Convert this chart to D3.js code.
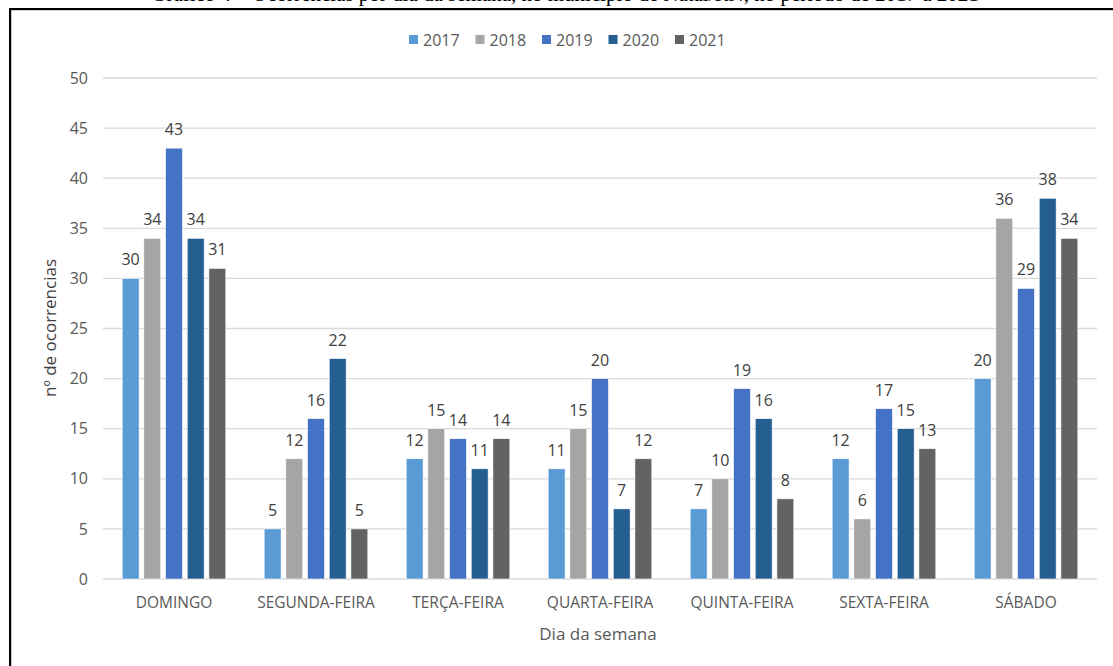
<!DOCTYPE html>
<html>
<head>
<meta charset="utf-8">
<script src="https://cdn.jsdelivr.net/npm/d3@7"></script>
<style>
  body { margin: 0; background: #fff; overflow: hidden; }
  svg { display: block; font-family: "Open Sans", "Liberation Sans", sans-serif; }
</style>
</head>
<body>
<svg id="canvas" width="1113" height="666"></svg>
<script>
// data
const days = ["DOMINGO", "SEGUNDA-FEIRA", "TERÇA-FEIRA", "QUARTA-FEIRA", "QUINTA-FEIRA", "SEXTA-FEIRA", "SÁBADO"];
const years = ["2017", "2018", "2019", "2020", "2021"];
const v2017 = [30, 5, 12, 11, 7, 12, 20];
const v2018 = [34, 12, 15, 15, 10, 6, 36];
const v2019 = [43, 16, 14, 20, 19, 17, 29];
const v2020 = [34, 22, 11, 7, 16, 15, 38];
const v2021 = [31, 5, 14, 12, 8, 13, 34];
const yTicks = [0, 5, 10, 15, 20, 25, 30, 35, 40, 45, 50];
const colors = ["#5B9BD5", "#A5A5A5", "#4472C4", "#255E91", "#636363"];

const series = [v2017, v2018, v2019, v2020, v2021];
const textColor = "#595959";

let canvas = d3.select("#canvas");

// caption above the frame (cut off at the top, as in the original)
canvas.append("text")
  .attr("x", 565)
  .attr("y", 1)
  .attr("text-anchor", "middle")
  .style("font-family", "'Liberation Serif', serif")
  .style("font-size", "21px")
  .attr("fill", "#000")
  .text("Gráfico 4 – Ocorrências por dia da semana, no município de Natal/RN, no período de 2017 a 2021");

// frame
canvas.append("rect")
  .attr("x", 11).attr("y", 10)
  .attr("width", 1200).attr("height", 700)
  .attr("fill", "none").attr("stroke", "#9a9a9a").attr("stroke-width", 1);
canvas.append("rect")
  .attr("x", 10).attr("y", 9)
  .attr("width", 1200).attr("height", 700)
  .attr("fill", "none").attr("stroke", "#000").attr("stroke-width", 2);

// scales
const x0 = d3.scaleBand().domain(days).range([103, 1097]).paddingInner(0.27).paddingOuter(0.135);
const x1 = d3.scaleBand().domain(years).range([0, x0.bandwidth()]).paddingInner(0.22);
const y = d3.scaleLinear().domain([0, 50]).range([579, 78]);

// gridlines
let g = canvas.append("g");
g.selectAll("line.grid")
  .data(yTicks)
  .enter()
  .append("line")
  .attr("class", "grid")
  .attr("x1", 103).attr("x2", 1097)
  .attr("y1", (d) => y(d)).attr("y2", (d) => y(d))
  .attr("stroke", "#d9d9d9")
  .attr("stroke-width", 1.3);

// y axis labels
const yAxis = d3.axisLeft(y).tickValues(yTicks).tickSize(0).tickPadding(15);
canvas.append("g")
  .attr("transform", "translate(103,0)")
  .call(yAxis)
  .call((s) => s.select(".domain").remove())
  .selectAll("text")
  .style("font-size", "16px")
  .style("font-family", "'Open Sans', sans-serif")
  .attr("fill", textColor);

// bars
years.forEach((yr, i) => {
  const grp = g.append("g");
  grp.selectAll("rect")
    .data(series[i])
    .enter()
    .append("rect")
    .attr("x", (d, k) => x0(days[k]) + x1(yr))
    .attr("y", (d) => y(d))
    .attr("width", x1.bandwidth())
    .attr("height", (d) => y(0) - y(d))
    .attr("fill", colors[i])
    .attr("stroke", "#fff")
    .attr("stroke-width", 0.6);
  grp.selectAll("text")
    .data(series[i])
    .enter()
    .append("text")
    .attr("x", (d, k) => x0(days[k]) + x1(yr) + x1.bandwidth() / 2)
    .attr("y", (d) => y(d) - 13)
    .attr("text-anchor", "middle")
    .style("font-size", "16px")
    .attr("fill", "#404040")
    .text((d) => d);
});

// x axis labels
const xAxis = d3.axisBottom(x0).tickSize(0).tickPadding(18);
canvas.append("g")
  .attr("transform", "translate(0,579)")
  .call(xAxis)
  .call((s) => s.select(".domain").remove())
  .selectAll("text")
  .style("font-size", "15.5px")
  .style("font-family", "'Open Sans', sans-serif")
  .attr("fill", textColor);

// axis titles
canvas.append("text")
  .attr("x", 598).attr("y", 640)
  .attr("text-anchor", "middle")
  .style("font-size", "17px")
  .attr("fill", textColor)
  .text("Dia da semana");

canvas.append("text")
  .attr("transform", "translate(56,328) rotate(-90)")
  .attr("text-anchor", "middle")
  .style("font-size", "17px")
  .attr("fill", "#404040")
  .text("nº de ocorrencias");

// legend
const legend = canvas.append("g");
years.forEach((yr, i) => {
  const lx = 409 + i * 66.5;
  legend.append("rect")
    .attr("x", lx).attr("y", 35)
    .attr("width", 9).attr("height", 9)
    .attr("fill", colors[i]);
  legend.append("text")
    .attr("x", lx + 14).attr("y", 46)
    .style("font-size", "16px")
    .attr("fill", textColor)
    .text(yr);
});
</script>
</body>
</html>
